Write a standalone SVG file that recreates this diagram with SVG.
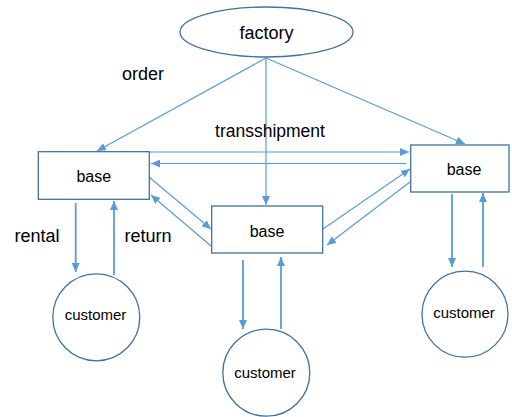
<svg xmlns="http://www.w3.org/2000/svg" width="512" height="417" viewBox="0 0 512 417">
<style>
.shape{fill:#fff;stroke:#41719C;stroke-width:1.3}
.t{font-family:"Liberation Sans",Arial,sans-serif;fill:#000;text-anchor:middle}
.c{stroke:#5B9BD5;stroke-width:1.2;fill:none;marker-end:url(#ah)}
.cs{stroke:#5B9BD5;stroke-width:1.8;fill:none}
.ca{marker-end:url(#ah)}
</style>
<defs>
<marker id="ah" markerUnits="userSpaceOnUse" markerWidth="10" markerHeight="8" refX="9" refY="4" orient="auto">
<path d="M0,0 L9,4 L0,8 Z" fill="#5B9BD5"/>
</marker>
</defs>
<rect width="512" height="417" fill="#fff"/>
<g id="connectors">
<line class="c" x1="266" y1="58" x2="97" y2="151"/>
<line class="c" x1="266" y1="58" x2="266" y2="205"/>
<line class="c" x1="266" y1="58" x2="465" y2="144"/>
<line class="c" x1="150" y1="152" x2="409" y2="152"/>
<line class="c" x1="406" y1="163.5" x2="151" y2="163.5"/>
<line class="c" x1="149" y1="177" x2="211" y2="229"/>
<line class="c" x1="211" y1="246" x2="151" y2="195"/>
<line class="c" x1="323" y1="229" x2="410" y2="169"/>
<line class="c" x1="410" y1="182" x2="327" y2="245"/>
<line class="cs ca" x1="75.7" y1="203" x2="75.7" y2="272"/>
<line class="cs ca" x1="114" y1="275" x2="114" y2="201"/>
<line class="cs ca" x1="243" y1="260" x2="243" y2="329"/>
<line class="cs ca" x1="281" y1="329" x2="281" y2="257"/>
<line class="cs ca" x1="452" y1="194" x2="452" y2="267"/>
<line class="cs ca" x1="483" y1="267" x2="483" y2="193"/>
<text class="t" x="143" y="80" font-size="18">order</text>
<text class="t" x="270" y="137" font-size="17.5">transshipment</text>
<text class="t" x="37" y="242" font-size="18">rental</text>
<text class="t" x="148" y="242" font-size="18">return</text>
</g>
<g id="factory">
<ellipse class="shape" cx="266.5" cy="32" rx="86.5" ry="25"/>
<text class="t" x="266.5" y="39" font-size="18">factory</text>
</g>
<g id="base-left">
<rect class="shape" x="38.3" y="151.7" width="111" height="47.6"/>
<text class="t" x="93.8" y="182" font-size="16">base</text>
</g>
<g id="base-middle">
<rect class="shape" x="211.7" y="206" width="111" height="47"/>
<text class="t" x="267" y="237" font-size="16">base</text>
</g>
<g id="base-right">
<rect class="shape" x="410.7" y="145" width="98.3" height="47"/>
<text class="t" x="464" y="174.5" font-size="16">base</text>
</g>
<g id="customer-left">
<circle class="shape" cx="96.3" cy="317.3" r="43.5"/>
<text class="t" x="95.5" y="320" font-size="15">customer</text>
</g>
<g id="customer-middle">
<circle class="shape" cx="266.3" cy="372.7" r="43.5"/>
<text class="t" x="265" y="378.3" font-size="15">customer</text>
</g>
<g id="customer-right">
<circle class="shape" cx="465" cy="314.2" r="43"/>
<text class="t" x="464" y="318.3" font-size="15">customer</text>
</g>
</svg>
